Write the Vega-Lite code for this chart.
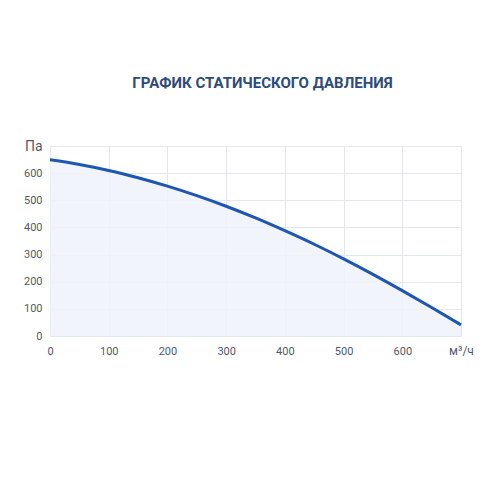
{
  "$schema": "https://vega.github.io/schema/vega-lite/v6.json",
  "autosize": "none",
  "padding": {"left": 50, "top": 146, "right": 39, "bottom": 164},
  "width": 411,
  "height": 190,
  "background": "white",
  "title": {
    "text": "ГРАФИК СТАТИЧЕСКОГО ДАВЛЕНИЯ",
    "font": "Roboto",
    "fontSize": 15,
    "fontWeight": "bold",
    "color": "#2d4b7b",
    "anchor": "middle",
    "dx": 7,
    "offset": 48
  },
  "config": {
    "view": {"stroke": null},
    "axis": {
      "labelFont": "Roboto",
      "labelFontSize": 11,
      "labelColor": "#4f5a6e",
      "gridColor": "#e4e7ee",
      "gridWidth": 1,
      "domain": false,
      "ticks": false,
      "title": null
    }
  },
  "data": {
    "values": [
      {"flow": 0, "pressure": 649},
      {"flow": 50, "pressure": 632},
      {"flow": 100, "pressure": 610},
      {"flow": 150, "pressure": 583},
      {"flow": 200, "pressure": 552},
      {"flow": 250, "pressure": 517},
      {"flow": 300, "pressure": 478},
      {"flow": 350, "pressure": 435},
      {"flow": 400, "pressure": 388},
      {"flow": 450, "pressure": 338},
      {"flow": 500, "pressure": 284},
      {"flow": 550, "pressure": 227},
      {"flow": 600, "pressure": 167},
      {"flow": 650, "pressure": 105},
      {"flow": 700, "pressure": 41}
    ]
  },
  "encoding": {
    "x": {
      "field": "flow",
      "type": "quantitative",
      "scale": {"domain": [0, 700], "nice": false},
      "axis": {
        "values": [0, 100, 200, 300, 400, 500, 600, 700],
        "labelPadding": 9,
        "labelFlush": false,
        "labelExpr": "datum.value == 700 ? 'м³/ч' : datum.label",
        "labelFontSize": {"condition": {"test": "datum.value == 700", "value": 12}, "value": 11}
      }
    },
    "y": {
      "field": "pressure",
      "type": "quantitative",
      "scale": {"domain": [0, 700], "nice": false},
      "axis": {
        "values": [0, 100, 200, 300, 400, 500, 600, 700],
        "labelPadding": 8,
        "labelExpr": "datum.value == 700 ? 'Па' : datum.label",
        "labelFontSize": {"condition": {"test": "datum.value == 700", "value": 14}, "value": 11}
      }
    }
  },
  "layer": [
    {
      "mark": {"type": "area", "interpolate": "monotone", "color": "#eef2f9", "opacity": 0.85}
    },
    {
      "mark": {"type": "line", "interpolate": "monotone", "color": "#1e56b4", "strokeWidth": 3}
    }
  ]
}
